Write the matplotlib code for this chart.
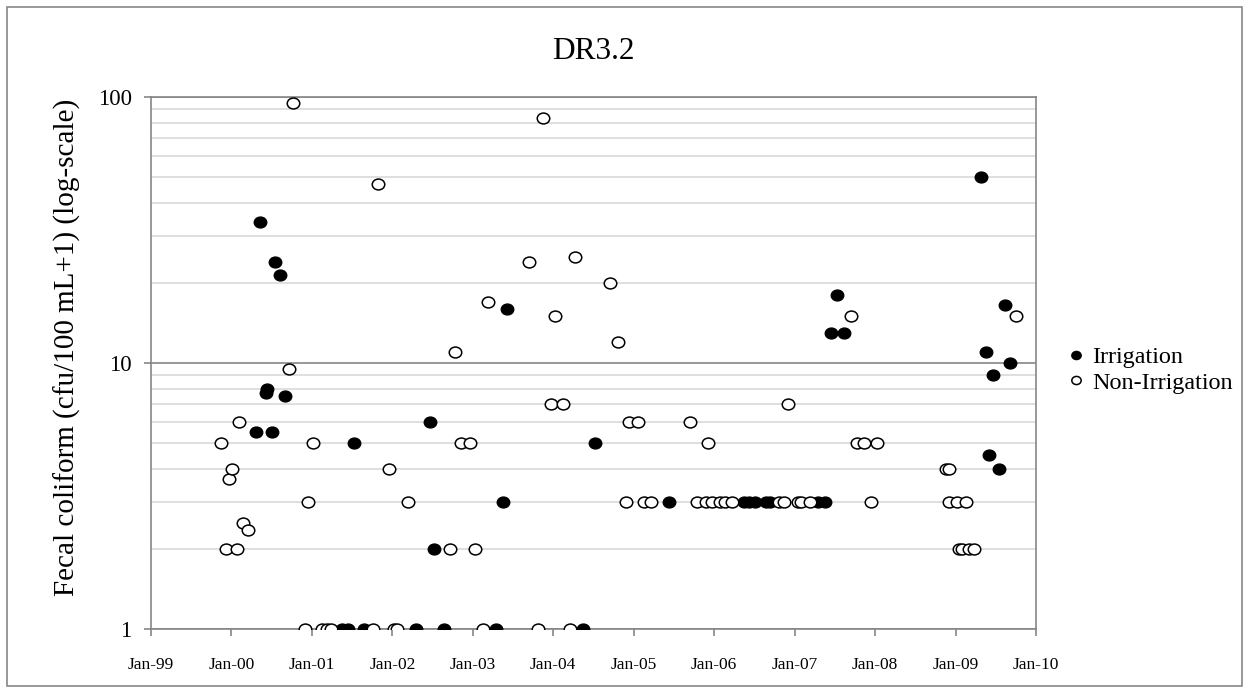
import numpy as np
import pandas as pd
import matplotlib
matplotlib.use('Agg')
import matplotlib.pyplot as plt
import matplotlib.dates as mdates
from matplotlib.path import Path
from matplotlib.patches import Rectangle
from matplotlib.ticker import LogLocator, NullFormatter, FixedLocator, FixedFormatter

plt.rcParams['font.family'] = ['Liberation Serif', 'DejaVu Serif']

# Fecal coliform samples at station DR3.2 (cfu/100 mL + 1)
irr_dates = [
    '2000-04-23', '2000-05-11', '2000-06-04', '2000-06-12', '2000-07-04',
    '2000-07-18', '2000-08-08', '2000-08-30',
    '2001-05-16', '2001-06-13', '2001-07-09', '2001-08-23',
    '2002-04-19', '2002-06-20', '2002-07-11', '2002-08-22',
    '2003-04-17', '2003-05-17', '2003-06-06',
    '2004-05-14', '2004-07-07',
    '2005-06-10',
    '2006-05-14', '2006-06-10', '2006-07-03', '2006-08-25', '2006-09-12',
    '2007-04-16', '2007-05-18', '2007-06-14', '2007-07-13', '2007-08-14',
    '2009-04-24', '2009-05-21', '2009-06-03', '2009-06-18', '2009-07-16',
    '2009-08-12', '2009-09-07',
]
irr_values = [
    5.5, 34, 7.7, 8.0, 5.5,
    24, 21.5, 7.5,
    1, 1, 5, 1,
    1, 6, 2, 1,
    1, 3, 16,
    1, 5,
    3,
    3, 3, 3, 3, 3,
    3, 3, 13, 18, 13,
    50, 11, 4.5, 9, 4,
    16.5, 10,
]

non_dates = [
    '1999-11-16', '1999-12-09', '1999-12-22', '2000-01-02', '2000-01-27',
    '2000-02-04', '2000-02-21', '2000-03-15', '2000-09-19', '2000-10-08',
    '2000-11-28', '2000-12-12',
    '2001-01-07', '2001-02-16', '2001-03-08', '2001-03-29', '2001-10-06',
    '2001-10-29', '2001-12-17',
    '2002-01-06', '2002-01-23', '2002-03-14', '2002-09-20', '2002-10-13',
    '2002-11-09', '2002-12-18',
    '2003-01-12', '2003-02-15', '2003-03-09', '2003-09-15', '2003-10-26',
    '2003-11-15', '2003-12-24',
    '2004-01-11', '2004-02-14', '2004-03-18', '2004-04-11', '2004-09-16',
    '2004-10-20', '2004-11-27', '2004-12-08',
    '2005-01-18', '2005-02-18', '2005-03-22', '2005-09-15', '2005-10-14',
    '2005-11-23', '2005-12-02', '2005-12-24',
    '2006-01-25', '2006-02-21', '2006-03-21', '2006-10-24', '2006-11-13',
    '2006-11-30',
    '2007-01-16', '2007-01-31', '2007-03-11', '2007-09-12', '2007-10-10',
    '2007-11-14', '2007-12-15',
    '2008-01-09', '2008-11-16', '2008-12-01', '2008-12-04',
    '2009-01-06', '2009-01-16', '2009-01-31', '2009-02-17', '2009-03-02',
    '2009-03-27', '2009-10-04',
]
non_values = [
    5, 2, 3.65, 4, 2,
    6, 2.5, 2.35, 9.5, 95,
    1, 3,
    5, 1, 1, 1, 1,
    47, 4,
    1, 1, 3, 2, 11,
    5, 5,
    2, 1, 17, 24, 1,
    83, 7,
    15, 7, 1, 25, 20,
    12, 3, 6,
    6, 3, 3, 6, 3,
    3, 5, 3,
    3, 3, 3, 3, 3,
    7,
    3, 3, 3, 15, 5,
    5, 3,
    5, 4, 3, 4,
    3, 2, 2, 3, 2,
    2, 15,
]

year_ticks = pd.date_range('1999-01-01', '2010-01-01', freq='YS')

# slightly wide oval marker
circ = Path.unit_circle()
oval = Path(circ.vertices * np.array([1.15, 1.0]), circ.codes)

fig = plt.figure(figsize=(12.49, 6.93), dpi=100)
ax = fig.add_axes([0.1209, 0.0924, 0.7086, 0.7677])

ax.plot(pd.to_datetime(irr_dates), irr_values, linestyle='none', marker=oval,
        markersize=9, markerfacecolor='black', markeredgecolor='black',
        markeredgewidth=1.0, label='Irrigation', zorder=3)
ax.plot(pd.to_datetime(non_dates), non_values, linestyle='none', marker=oval,
        markersize=9, markerfacecolor='white', markeredgecolor='black',
        markeredgewidth=1.1, label='Non-Irrigation', zorder=4)

ax.set_yscale('log')
ax.set_ylim(1, 100)
ax.set_xlim(year_ticks[0], year_ticks[-1])

ax.yaxis.set_major_locator(FixedLocator([1, 10, 100]))
ax.yaxis.set_major_formatter(FixedFormatter(['1', '10', '100']))
ax.yaxis.set_minor_locator(LogLocator(base=10, subs=np.arange(2, 10)))
ax.yaxis.set_minor_formatter(NullFormatter())
ax.grid(True, axis='y', which='minor', color='#d9d9d9', linewidth=1.2, zorder=0)
ax.grid(True, axis='y', which='major', color='#868686', linewidth=1.2, zorder=0)
ax.set_axisbelow(True)

ax.xaxis.set_major_locator(FixedLocator(mdates.date2num(year_ticks)))
ax.xaxis.set_major_formatter(mdates.DateFormatter('%b-%y'))

for s in ax.spines.values():
    s.set_color('#868686')
    s.set_linewidth(1.2)
ax.tick_params(axis='both', which='major', color='#868686', width=1.2,
               length=5, direction='out')
ax.tick_params(axis='y', which='minor', length=0)
ax.tick_params(axis='x', labelsize=12.5, pad=15)
ax.tick_params(axis='y', labelsize=16.5, pad=9)

ax.set_title('DR3.2', fontsize=22.5, pad=27)
ax.set_ylabel('Fecal coliform (cfu/100 mL+1) (log-scale)', fontsize=21)
ax.yaxis.set_label_coords(-0.079, 0.53)

ax.legend(loc='center left', bbox_to_anchor=(1.014, 0.487), frameon=False,
          fontsize=17.4, handlelength=0.5, handletextpad=0.4, labelspacing=0.15,
          markerscale=0.75)

# outer chart border
fig.patches.append(Rectangle((0.006, 0.01), 0.988, 0.98, transform=fig.transFigure,
                             fill=False, edgecolor='#868686', linewidth=1.2))

fig.savefig('out.png', dpi=100)
